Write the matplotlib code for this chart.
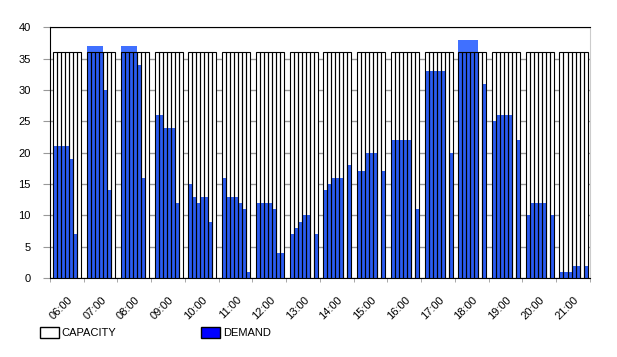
import numpy as np
import matplotlib.pyplot as plt
from matplotlib.patches import Patch

plt.rcParams['font.family'] = ['Liberation Sans', 'DejaVu Sans']

hours = ["06:00", "07:00", "08:00", "09:00", "10:00", "11:00", "12:00", "13:00",
         "14:00", "15:00", "16:00", "17:00", "18:00", "19:00", "20:00", "21:00"]

# capacity of each slot in the hour (7 slots per hour)
capacity_per_hour = [36, 36, 36, 36, 36, 36, 36, 36, 36, 36, 36, 36, 36, 36, 36, 36]

demand = [
    [21, 21, 21, 21, 19, 7, 0],
    [37, 37, 37, 37, 30, 14, 0],
    [37, 37, 37, 37, 34, 16, 0],
    [26, 26, 24, 24, 24, 12, 0],
    [15, 13, 12, 13, 13, 9, 0],
    [16, 13, 13, 13, 12, 11, 1],
    [12, 12, 12, 12, 11, 4, 4],
    [7, 8, 9, 10, 10, 0, 7],
    [14, 15, 16, 16, 16, 0, 18],
    [17, 17, 20, 20, 20, 0, 17],
    [22, 22, 22, 22, 22, 0, 11],
    [33, 33, 33, 33, 33, 0, 20],
    [38, 38, 38, 38, 38, 0, 31],
    [25, 26, 26, 26, 26, 0, 22],
    [10, 12, 12, 12, 12, 0, 10],
    [1, 1, 1, 2, 2, 0, 2],
]

n_slots = 7
w = 0.119
offset = 0.1

x = []
cap = []
dem = []
for h, row in enumerate(demand):
    for j, d in enumerate(row):
        x.append(h + offset + w * (j + 0.5))
        cap.append(capacity_per_hour[h])
        dem.append(d)
x = np.array(x)
cap = np.array(cap)
dem = np.array(dem)

fig = plt.figure(figsize=(6.17, 3.57), dpi=100)
ax = fig.add_axes([0.081, 0.221, 0.875, 0.703])

ax.set_axisbelow(True)
ax.yaxis.grid(True, color='#999999', lw=1)

ax.bar(x, cap, width=w, color='white', edgecolor='none', zorder=2)
inside = np.minimum(dem, cap)
ax.bar(x, inside, width=w, color='#2b5cf2', edgecolor='none', zorder=3)
excess = np.clip(dem - cap, 0, None)
ax.bar(x, excess, bottom=cap, width=w, color='#4070ff', edgecolor='none', zorder=3)
ax.bar(x, cap, width=w, facecolor='none', edgecolor='black', lw=0.8, zorder=4)

ax.set_xlim(0, 16)
ax.set_ylim(0, 40)
ax.set_yticks(range(0, 41, 5))
ax.tick_params(axis='y', colors='#999999', length=5, labelcolor='black', labelsize=8, pad=9)

centers = np.arange(16) + offset + w * n_slots / 2
ax.set_xticks(centers)
ax.set_xticklabels(hours, rotation=45, ha='right', rotation_mode='anchor', fontsize=8)
ax.tick_params(axis='x', length=0, pad=12)
ax.set_xticks(np.arange(17), minor=True)
ax.tick_params(axis='x', which='minor', length=3, color='#999999')

for s in ['top', 'left', 'bottom']:
    ax.spines[s].set_color('black')
ax.spines['right'].set_color('#cccccc')

handles = [Patch(facecolor='white', edgecolor='black', label='CAPACITY'),
           Patch(facecolor='#0000ff', edgecolor='black', label='DEMAND')]
fig.legend(handles=handles, loc='lower left', bbox_to_anchor=(0.048, 0.025), ncol=2,
           frameon=False, fontsize=8, handlelength=1.7, handleheight=1.1,
           handletextpad=0.3, columnspacing=7.6)

fig.savefig('out.png', dpi=100)
